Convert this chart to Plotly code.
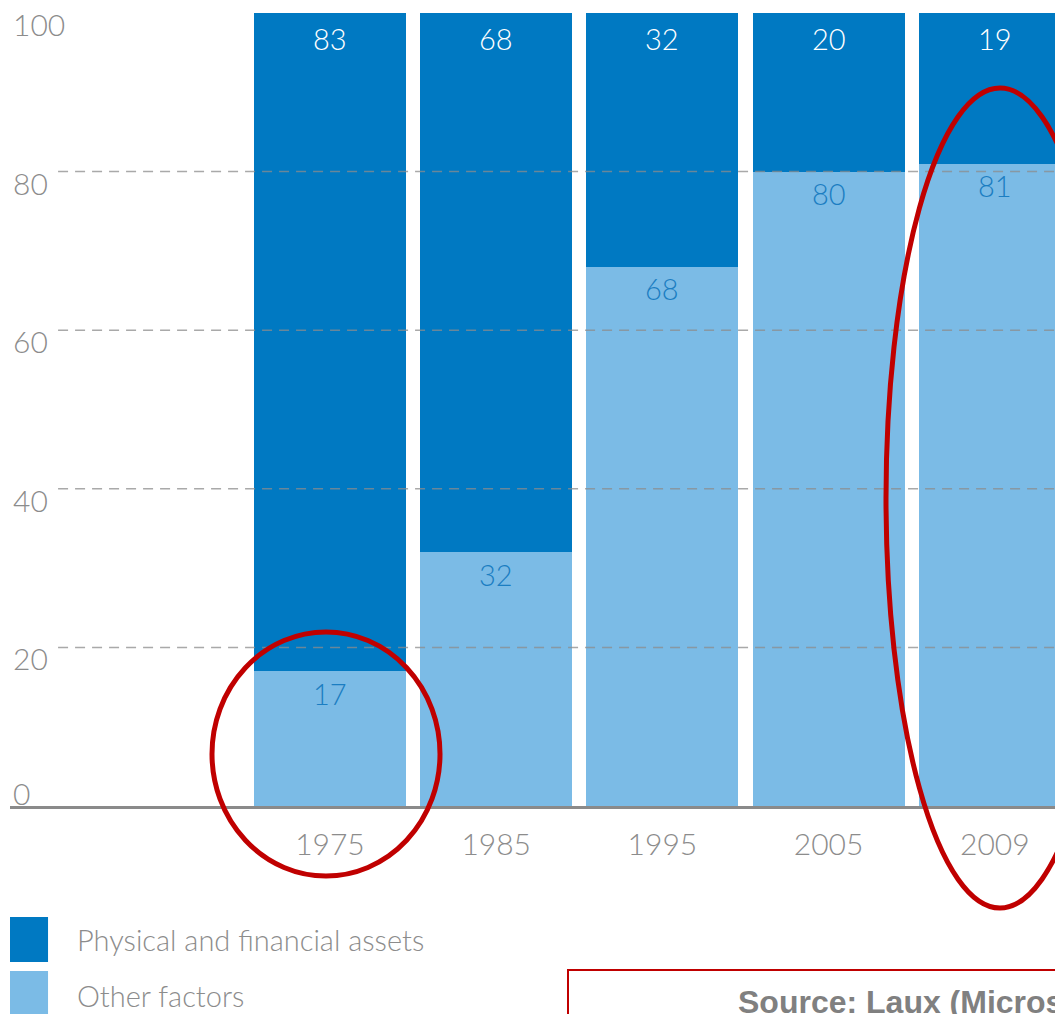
import plotly.graph_objects as go

years = ["1975", "1985", "1995", "2005", "2009"]
other_factors = [17, 32, 68, 80, 81]
physical_financial = [83, 68, 32, 20, 19]
y_ticks = [0, 20, 40, 60, 80, 100]
legend_labels = ["Physical and financial assets", "Other factors"]
source_text = "Source: Laux (Microsoft)"

DARK = "#0079C2"
LIGHT = "#7BBBE6"
GREY = "#8c8c8c"
FONT = "Lato"

fig = go.Figure()
fig.add_bar(x=years, y=other_factors, marker_color=LIGHT, marker_line_width=0,
            name=legend_labels[1], hoverinfo="skip")
fig.add_bar(x=years, y=physical_financial, marker_color=DARK, marker_line_width=0,
            name=legend_labels[0], hoverinfo="skip")

annotations = []
for i, (o, p) in enumerate(zip(other_factors, physical_financial)):
    annotations.append(dict(x=i, y=o + p, xref="x", yref="y", text=str(p), showarrow=False,
                            yanchor="middle", yshift=-25,
                            font=dict(family=FONT, size=29, color="white", weight=300)))
    annotations.append(dict(x=i, y=o, xref="x", yref="y", text=str(o), showarrow=False,
                            yanchor="middle", yshift=-22,
                            font=dict(family=FONT, size=29, color="#1B7EC2", weight=300)))

shapes = []
for t in y_ticks:
    shift = 13 if t == 0 else -11
    annotations.append(dict(x=0.0, y=t, xref="paper", yref="y", text=str(t), showarrow=False,
                            xanchor="left", yanchor="middle", yshift=shift, xshift=1,
                            font=dict(family=FONT, size=30, color=GREY, weight=300)))
    if 0 < t < 100:
        shapes.append(dict(type="line", xref="paper", yref="y", x0=0.046, x1=1.0, y0=t, y1=t,
                           line=dict(color="rgba(140,140,140,0.75)", width=1.5, dash="10px,7px"),
                           layer="above"))

# legend (custom squares)
shapes.append(dict(type="rect", xref="paper", yref="paper", x0=0.0, x1=0.0364,
                   y0=(806 - 962) / 793, y1=(806 - 917) / 793, fillcolor=DARK, line_width=0))
shapes.append(dict(type="rect", xref="paper", yref="paper", x0=0.0, x1=0.0364,
                   y0=(806 - 1030) / 793, y1=(806 - 971) / 793, fillcolor=LIGHT, line_width=0))
annotations.append(dict(x=(75 - 10) / 1045, y=(806 - 940) / 793, xref="paper", yref="paper",
                        text=legend_labels[0], showarrow=False, xanchor="left", yanchor="middle",
                        font=dict(family=FONT, size=29, color=GREY, weight=300)))
annotations.append(dict(x=(75 - 10) / 1045, y=(806 - 995) / 793, xref="paper", yref="paper",
                        text=legend_labels[1], showarrow=False, xanchor="left", yanchor="middle",
                        font=dict(family=FONT, size=29, color=GREY, weight=300)))

# red highlight ellipses
RED = "#C00000"
shapes.append(dict(type="circle", xref="paper", yref="paper",
                   x0=(212 - 10) / 1045, x1=(440 - 10) / 1045,
                   y0=(806 - 876) / 793, y1=(806 - 632) / 793,
                   line=dict(color=RED, width=5), layer="above"))
shapes.append(dict(type="circle", xref="paper", yref="paper",
                   x0=(886 - 10) / 1045, x1=(1114 - 10) / 1045,
                   y0=(806 - 908) / 793, y1=(806 - 88) / 793,
                   line=dict(color=RED, width=5), layer="above"))

# source box
shapes.append(dict(type="rect", xref="paper", yref="paper",
                   x0=(568 - 10) / 1045, x1=1.1,
                   y0=(806 - 1040) / 793, y1=(806 - 970) / 793,
                   line=dict(color=RED, width=2), fillcolor="rgba(0,0,0,0)"))
annotations.append(dict(x=(736 - 10) / 1045, y=(806 - 1002) / 793, xref="paper", yref="paper",
                        text="<b>" + source_text + "</b>", showarrow=False,
                        xanchor="left", yanchor="middle",
                        font=dict(family="Liberation Sans, Arial", size=32, color="#808080")))

fig.update_layout(
    barmode="stack",
    bargap=0.085,
    width=1055, height=1014,
    margin=dict(l=10, r=0, t=13, b=208),
    plot_bgcolor="white", paper_bgcolor="white",
    showlegend=False,
    xaxis=dict(type="category", range=[-1.925, 4.362], showgrid=False, showline=True,
               linecolor="#8a8a8a", linewidth=3, ticks="", ticklabelstandoff=10, zeroline=False,
               tickfont=dict(family=FONT, size=30, color=GREY, weight=300)),
    yaxis=dict(range=[0, 100], showgrid=False, showticklabels=False, zeroline=False,
               showline=False),
    annotations=annotations,
    shapes=shapes,
)

fig.write_html("out.html", config={"displayModeBar": False},
               post_script="document.body.style.margin='0';document.body.style.overflow='hidden';")
